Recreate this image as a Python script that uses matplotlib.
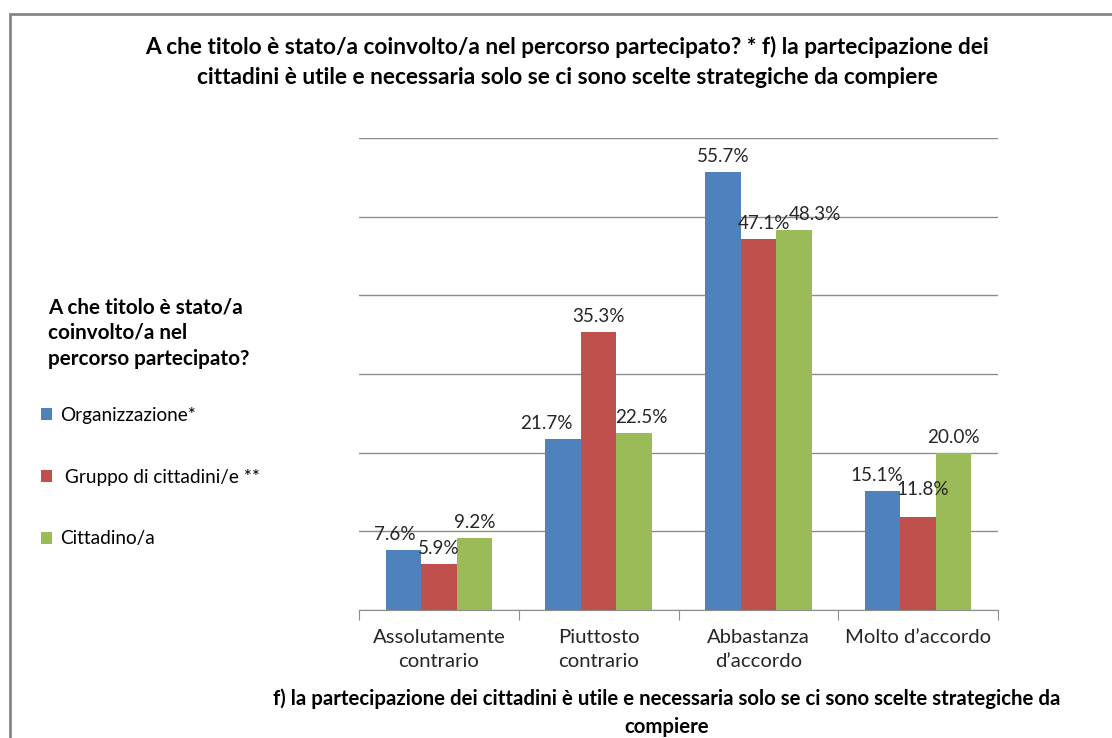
import numpy as np
import matplotlib.pyplot as plt
from matplotlib.patches import Rectangle

plt.rcParams['font.family'] = ['Lato', 'DejaVu Sans']

# Dati
categorie = ["Assolutamente\ncontrario", "Piuttosto\ncontrario", "Abbastanza\nd\u2019accordo", "Molto d\u2019accordo"]
serie = ["Organizzazione*", " Gruppo di cittadini/e **", "Cittadino/a"]
organizzazione = [7.6, 21.7, 55.7, 15.1]
gruppo = [5.9, 35.3, 47.1, 11.8]
cittadino = [9.2, 22.5, 48.3, 20.0]
colori = ["#4F81BD", "#C0504D", "#9BBB59"]

# spostamenti (pixel) delle etichette che si sovrappongono, come in Excel
spost = {(0, 0): (-9, 0), (0, 1): (-17, 0), (2, 1): (7, 0), (1, 2): (6, 0),
         (2, 2): (21, 0), (0, 3): (-6, 0), (1, 3): (5, 12)}

fig = plt.figure(figsize=(11.12, 7.38), dpi=100)
ax = fig.add_axes([359/1112, 1 - 610/738, 639/1112, 472/738])

x = np.arange(len(categorie))
w = 0.222
valori = [organizzazione, gruppo, cittadino]
barre = []
for i, (vals, col, nome) in enumerate(zip(valori, colori, serie)):
    b = ax.bar(x + (i - 1) * w, vals, w, color=col, label=nome, zorder=3)
    barre.append(b)
    for j, (xi, v) in enumerate(zip(x + (i - 1) * w, vals)):
        dx, dy = spost.get((i, j), (0, 0))
        ax.annotate(f"{v:.1f}%", (xi, v), xytext=(dx, 7 + dy), textcoords="offset pixels",
                    ha="center", va="bottom", fontsize=13.6, color="#262626", zorder=5)

ax.set_xlim(-0.5, len(categorie) - 0.5)
ax.set_ylim(0, 60)
ax.set_yticks(np.arange(0, 61, 10))
ax.set_yticklabels([])
ax.tick_params(axis="y", length=0)
ax.grid(axis="y", color="#8c8c8c", linewidth=1, zorder=0)

# tacche ai bordi delle categorie, etichette al centro
ax.set_xticks(np.arange(-0.5, len(categorie), 1))
ax.set_xticklabels([])
ax.set_xticks(x, minor=True)
ax.set_xticklabels(categorie, minor=True, fontsize=14.6, color="#262626")
for t in ax.get_xticklabels(minor=True):
    t.set_linespacing(1.45)
ax.tick_params(axis="x", which="major", length=7, color="#8c8c8c")
ax.tick_params(axis="x", which="minor", length=0, pad=14)

for s in ["top", "right", "left"]:
    ax.spines[s].set_visible(False)
ax.spines["bottom"].set_color("#8c8c8c")

# titoli
fig.text(567/1112, 1 - 47/738, "A che titolo è stato/a coinvolto/a nel percorso partecipato? * f) la partecipazione dei",
         ha="center", va="center", fontsize=16.3, fontweight="bold")
fig.text(567/1112, 1 - 77/738, "cittadini è utile e necessaria solo se ci sono scelte strategiche da compiere",
         ha="center", va="center", fontsize=16.3, fontweight="bold")
fig.text(667/1112, 1 - 699/738, "f) la partecipazione dei cittadini è utile e necessaria solo se ci sono scelte strategiche da",
         ha="center", va="center", fontsize=14.7, fontweight="bold")
fig.text(667/1112, 1 - 727/738, "compiere", ha="center", va="center", fontsize=14.7, fontweight="bold")

# legenda
fig.text(48/1112, 1 - 333/738, "A che titolo è stato/a\ncoinvolto/a nel\npercorso partecipato?",
         ha="left", va="center", fontsize=14.9, fontweight="bold", linespacing=1.35)
fig.legend(handles=barre, loc="upper left", bbox_to_anchor=(33/1112, 1 - 399/738),
           frameon=False, fontsize=13.7, handlelength=0.6, handleheight=0.6,
           handletextpad=0.4, labelspacing=2.36, borderaxespad=0)

# cornice
fig.add_artist(Rectangle((10/1112, -0.1), 1.2, 1.1 - 14/738, transform=fig.transFigure,
                         fill=False, edgecolor="#868686", linewidth=2))

fig.savefig("out.png", dpi=100)
